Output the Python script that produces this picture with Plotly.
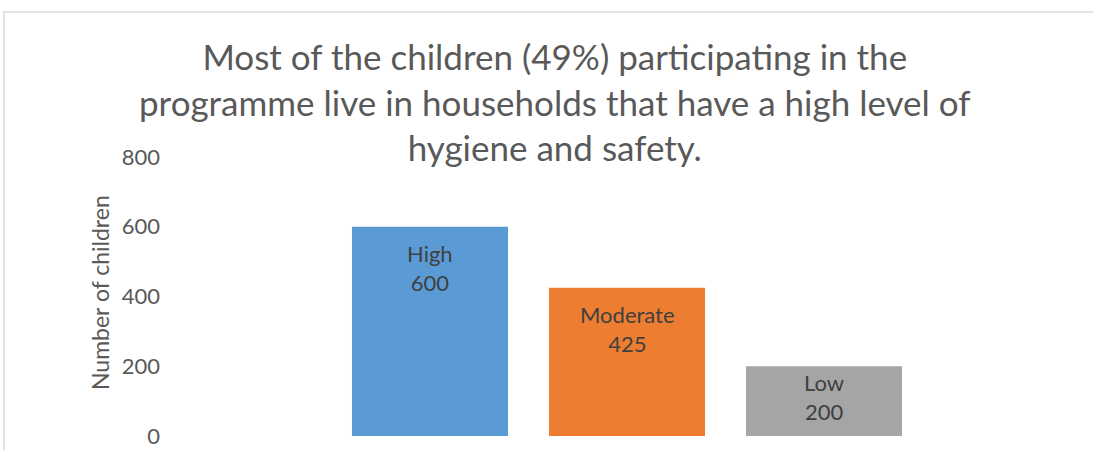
import plotly.graph_objects as go

categories = ["High", "Moderate", "Low"]
values = [600, 425, 200]
colors = ["#5B9BD5", "#ED7D31", "#A5A5A5"]
y_ticks = [0, 200, 400, 600, 800]
title_lines = ["Most of the children (49%) participating in the",
               "programme live in households that have a high level of",
               "hygiene and safety."]

W, H = 1093, 450
L, R, T, B = 175, 13, 157, 14
pw = W - L - R
ph = H - T - B

fig = go.Figure()
fig.add_trace(go.Bar(
    x=categories, y=values, marker=dict(color=colors, line=dict(width=0)),
    hoverinfo="skip", showlegend=False,
))

for c, v in zip(categories, values):
    label_font = dict(family="Lato", size=22, color="#404040")
    if v >= 300:
        fig.add_annotation(x=c, y=v, xref="x", yref="y", text=f"{c}<br>{v}",
                           showarrow=False, yanchor="top", yshift=-11, font=label_font)
    else:
        fig.add_annotation(x=c, y=v / 2, xref="x", yref="y", text=f"{c}<br>{v}",
                           showarrow=False, yanchor="middle", yshift=4, font=label_font)

fig.add_annotation(xref="paper", yref="paper", x=(100 - L) / pw, y=(436 - 293) / ph,
                   text="Number of children", textangle=-90, showarrow=False,
                   xanchor="center", yanchor="middle",
                   font=dict(family="Lato", size=23, color="#595959"))

fig.add_annotation(xref="paper", yref="paper", x=(555 - L) / pw, y=(436 - 33) / ph,
                   text="<br>".join(title_lines), showarrow=False,
                   xanchor="center", yanchor="top", align="center",
                   font=dict(family="Lato", size=35, color="#595959"))

fig.add_shape(type="rect", xref="paper", yref="paper",
              x0=(4 - L) / pw, x1=(W + 20 - L) / pw,
              y0=(H - B - (H + 20)) / ph, y1=(H - B - 12) / ph,
              line=dict(color="#D9D9D9", width=1.5), fillcolor="rgba(0,0,0,0)", layer="below")

fig.update_layout(
    width=W, height=H,
    margin=dict(l=L, r=R, t=T, b=B, autoexpand=False),
    paper_bgcolor="white", plot_bgcolor="white",
    bargap=0.208,
    xaxis=dict(range=[(L - 430) / 197, (W - R - 430) / 197], showticklabels=False,
               showgrid=False, zeroline=False, showline=False, ticks=""),
    yaxis=dict(range=[0, 800], tickvals=y_ticks, showgrid=False, zeroline=False,
               showline=False, ticks="", ticklabelstandoff=14,
               tickfont=dict(family="Lato", size=22, color="#595959")),
)

fig.write_html("out.html")
